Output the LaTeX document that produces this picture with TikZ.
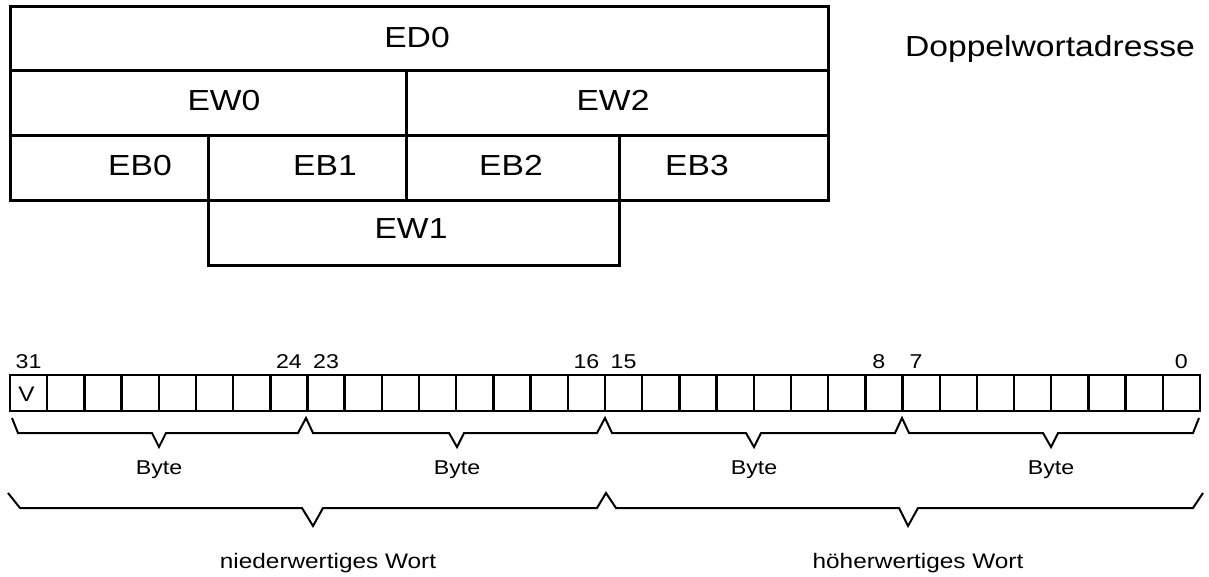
\documentclass[tikz,border=0pt]{standalone}
\usepackage{fontspec}
\setmainfont{Liberation Sans}[FakeStretch=1.16]
\tikzset{
  tbl/.style={line width=3pt, line join=miter},
  bitcell/.style={draw, line width=2.4pt, minimum width=37.1875pt, minimum height=36pt, inner sep=0pt, outer sep=0pt},
  brace/.style={line width=2pt, line join=miter},
  bigtxt/.style={anchor=base, inner sep=0pt, font=\fontsize{29}{29}\selectfont},
  smalltxt/.style={anchor=base, inner sep=0pt, font=\fontsize{20}{20}\selectfont},
  midtxt/.style={anchor=base, inner sep=0pt, font=\fontsize{21}{21}\selectfont},
}
\begin{document}
\begin{tikzpicture}[x=1pt,y=-1pt]
\useasboundingbox[fill=white] (0,0) rectangle (1209,576);
% address table
\draw[tbl] (10,6) rectangle (828,200);
\draw[tbl] (10,70) -- (828,70);
\draw[tbl] (10,135) -- (828,135);
\draw[tbl] (406,70) -- (406,202);
\draw[tbl] (208,135) -- (208,265) -- (619,265) -- (619,135);
\node[bigtxt] (ed0) at (417,47) {ED0};
\node[bigtxt] (ew0) at (224,110) {EW0};
\node[bigtxt] (ew2) at (613,110) {EW2};
\node[bigtxt] (eb0) at (140,175) {EB0};
\node[bigtxt] (eb1) at (325,175) {EB1};
\node[bigtxt] (eb2) at (511,175) {EB2};
\node[bigtxt] (eb3) at (697,175) {EB3};
\node[bigtxt] (ew1) at (411,238) {EW1};
\node[bigtxt] (dwa) at (1050,56) {Doppelwortadresse};
% bit row
\foreach \i in {0,...,31}
  \node[bitcell] (c\i) at ({10+(\i+0.5)*37.1875},393) {};
\node[smalltxt] (l31) at (c0 |- 0,368) {31};
\node[smalltxt] (l24) at (c7 |- 0,368) {24};
\node[smalltxt] (l23) at (c8 |- 0,368) {23};
\node[smalltxt] (l16) at (c15 |- 0,368) {16};
\node[smalltxt] (l15) at (c16 |- 0,368) {15};
\node[smalltxt] (l8) at ([xshift=-5pt]c23 |- 0,368) {8};
\node[smalltxt] (l7) at ([xshift=-5pt]c24 |- 0,368) {7};
\node[smalltxt] (l0) at (c31 |- 0,368) {0};
\node[smalltxt, font=\fontsize{21}{21}\selectfont] (v) at ([xshift=-2pt]c0 |- 0,401) {V};
% byte braces
\draw[brace] (12,418) -- (18,433) -- (152,433) -- (159,447) -- (166,433) -- (298,433)
  -- (306,418) -- (313,433) -- (449,433) -- (457,447) -- (464,433) -- (597,433)
  -- (605,418) -- (612,433) -- (746,433) -- (754,447) -- (761,433) -- (895,433)
  -- (902,418) -- (909,433) -- (1043,433) -- (1051,447) -- (1058,433) -- (1193,433)
  -- (1199,418);
\node[smalltxt] (by0) at (159,474) {Byte};
\node[smalltxt] (by1) at (457,474) {Byte};
\node[smalltxt] (by2) at (754,474) {Byte};
\node[smalltxt] (by3) at (1051,474) {Byte};
% word braces
\draw[brace] (8,493) -- (20,508) -- (302,508) -- (313,526) -- (323,508) -- (597,508)
  -- (606,493) -- (616,508) -- (899,508) -- (908,526) -- (918,508) -- (1193,508)
  -- (1203,493);
\node[midtxt] (w0) at (328,568) {niederwertiges Wort};
\node[midtxt] (w1) at (918,568) {höherwertiges Wort};
\end{tikzpicture}
\end{document}
